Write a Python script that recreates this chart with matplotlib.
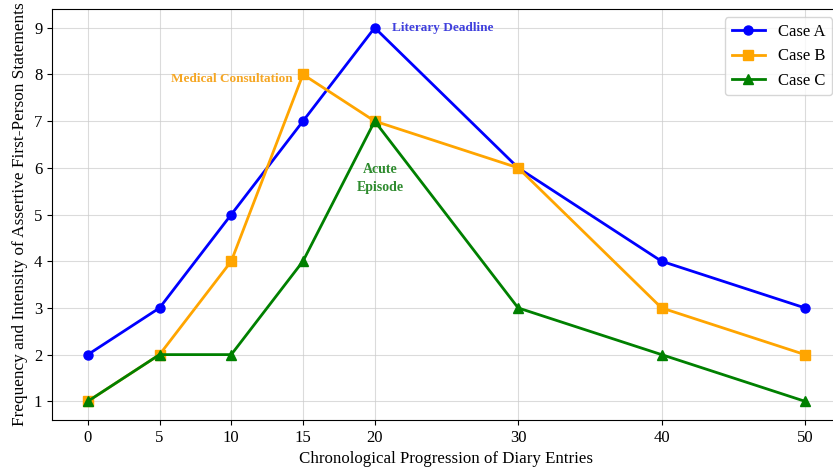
import matplotlib
matplotlib.use("Agg")
import matplotlib.pyplot as plt

# Datos
entradas = [0, 5, 10, 15, 20, 30, 40, 50]
caso_a = [2, 3, 5, 7, 9, 6, 4, 3]
caso_b = [1, 2, 4, 8, 7, 6, 3, 2]
caso_c = [1, 2, 2, 4, 7, 3, 2, 1]

plt.rcParams['font.family'] = ['Liberation Serif', 'DejaVu Serif']

fig = plt.figure(figsize=(8.33, 4.68), dpi=100)
ax = fig.add_axes([0.0624, 0.1026, 0.947, 0.878])

# Series
ax.plot(entradas, caso_a, color='blue', marker='o', linewidth=2, markersize=6.5, label='Case A')
ax.plot(entradas, caso_b, color='orange', marker='s', linewidth=2, markersize=6.5, label='Case B')
ax.plot(entradas, caso_c, color='green', marker='^', linewidth=2, markersize=6.5, label='Case C')

# Anotaciones
ax.text(21.2, 9.0, 'Literary Deadline', color='#4040dd', fontsize=9.5,
        fontweight='bold', ha='left', va='center')
ax.text(14.3, 7.9, 'Medical Consultation', color='#f5a623', fontsize=9.5,
        fontweight='bold', ha='right', va='center')
ax.text(20.4, 5.77, 'Acute\nEpisode', color='#2e8b2e', fontsize=10,
        fontweight='bold', ha='center', va='center', linespacing=1.5)

# Ejes
ax.set_xticks(entradas)
ax.set_xlim(-2.5, 52.5)
ax.set_ylim(0.6, 9.4)
ax.tick_params(labelsize=12)
ax.set_xlabel('Chronological Progression of Diary Entries', fontsize=12.2)
ax.set_ylabel('Frequency and Intensity of Assertive First-Person Statements', fontsize=12.4)
ax.spines['right'].set_visible(False)
ax.grid(True, color='#cccccc', alpha=0.7, linewidth=0.8)
ax.legend(loc='upper right', fontsize=12)

plt.savefig('out.png', dpi=100)
